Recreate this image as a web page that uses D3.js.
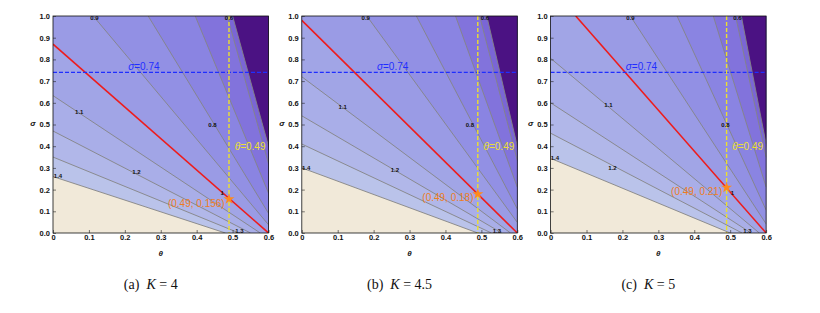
<!DOCTYPE html>
<html>
<head>
<meta charset="utf-8">
<script src="https://cdn.jsdelivr.net/npm/d3@7"></script>
<style>
  body { margin: 0; background: #fff; }
</style>
</head>
<body>
<script>
// panel captions
const panelTags = ['(a)', '(b)', '(c)'];
const kValues = ['4', '4.5', '5'];

// contour levels, from the beige corner up to the dark wedge
const levels = ['1.4', '1.3', '1.2', '1.1', '1', '0.9', '0.8', '0.7', '0.6', 'dark'];
const bandColors = ['#bac3ea', '#b1b7e9', '#a9aee8', '#a1a5e6', '#9a9be5', '#9290e4',
                    '#8a84e2', '#8273dc', '#7a66d6', '#4b1283'];
const baseColor = '#f1e9d9';

// where each contour enters (theta, sigma) ... and leaves the frame
const contourStart = [
  [[0, 0.26], [0, 0.35], [0, 0.47], [0, 0.633], [0, 0.87], [0.112, 1], [0.265, 1], [0.396, 1], [0.485, 1], [0.50, 1]],
  [[0, 0.30], [0, 0.41], [0, 0.54], [0, 0.72], [0, 0.98], [0.181, 1], [0.319, 1], [0.428, 1], [0.495, 1], [0.515, 1]],
  [[0, 0.344], [0, 0.46], [0, 0.60], [0, 0.805], [0.07, 1], [0.222, 1], [0.352, 1], [0.453, 1], [0.515, 1], [0.531, 1]]
];
const contourEnd = [
  [[0.48, 0], [0.518, 0], [0.55, 0], [0.577, 0], [0.6, 0], [0.6, 0.038], [0.6, 0.091], [0.6, 0.184], [0.6, 0.32], [0.6, 0.40]],
  [[0.49, 0], [0.528, 0], [0.557, 0], [0.581, 0], [0.6, 0], [0.6, 0.049], [0.6, 0.111], [0.6, 0.211], [0.6, 0.334], [0.6, 0.40]],
  [[0.50, 0], [0.533, 0], [0.558, 0], [0.581, 0], [0.6, 0], [0.6, 0.042], [0.6, 0.106], [0.6, 0.212], [0.6, 0.349], [0.6, 0.41]]
];

// contour labels [text, theta, sigma]
const contourLabels = [
  [['0.9', 0.115, 0.993], ['0.6', 0.49, 0.993], ['1.1', 0.073, 0.56], ['0.8', 0.444, 0.50],
   ['1.4', 0.014, 0.264], ['1.2', 0.232, 0.28], ['1', 0.471, 0.183], ['1.3', 0.519, 0.01]],
  [['0.9', 0.178, 0.993], ['0.6', 0.51, 0.993], ['1.1', 0.114, 0.58], ['0.8', 0.468, 0.50],
   ['1.4', 0.012, 0.30], ['1.2', 0.259, 0.29], ['1.3', 0.543, 0.008]],
  [['0.9', 0.222, 0.993], ['0.6', 0.52, 0.993], ['1.1', 0.161, 0.59], ['0.8', 0.487, 0.50],
   ['1.4', 0.012, 0.344], ['1.2', 0.172, 0.30], ['1', 0.506, 0.186], ['1.3', 0.548, 0.008]]
];

// reference lines and marked point
const thetaMark = 0.49;
const sigmaMark = 0.74;
const starSigma = [0.156, 0.18, 0.21];
const starText = ['(0.49, 0.156)', '(0.49, 0.18)', '(0.49, 0.21)'];

const xTicks = [0, 0.1, 0.2, 0.3, 0.4, 0.5, 0.6];
const yTicks = [0, 0.1, 0.2, 0.3, 0.4, 0.5, 0.6, 0.7, 0.8, 0.9, 1.0];

const W = 820, H = 313;
const left0 = 53, step = 248.8, topY = 16;
const pw = 215.5, ph = 217;
const sans = '"Liberation Sans", Arial, sans-serif';

const svg = d3.select('body').append('svg')
  .attr('width', W).attr('height', H)
  .style('font-family', sans);
svg.append('rect').attr('width', W).attr('height', H).attr('fill', '#fff');

panelTags.forEach((tag, i) => {
  const g = svg.append('g')
    .attr('transform', `translate(${left0 + i * step},${topY})`);

  const x = d3.scaleLinear().domain([0, 0.6]).range([0, pw]);
  const y = d3.scaleLinear().domain([0, 1]).range([ph, 0]);

  g.append('clipPath').attr('id', 'clip' + i)
    .append('rect').attr('width', pw).attr('height', ph);

  const plot = g.append('g').attr('clip-path', `url(#clip${i})`);
  plot.append('rect').attr('width', pw).attr('height', ph).attr('fill', baseColor);

  // fill the side of each contour that lies toward the dark corner
  const halfPlane = (a, b) => {
    const p = [x(a[0]), y(a[1])], q = [x(b[0]), y(b[1])];
    const len = Math.hypot(q[0] - p[0], q[1] - p[1]);
    const d = [(q[0] - p[0]) / len, (q[1] - p[1]) / len];
    const n = [d[1], -d[0]];
    const L = 2000;
    const A = [p[0] - L * d[0], p[1] - L * d[1]];
    const B = [q[0] + L * d[0], q[1] + L * d[1]];
    return [A, B, [B[0] + L * n[0], B[1] + L * n[1]], [A[0] + L * n[0], A[1] + L * n[1]]];
  };

  plot.selectAll('polygon.band')
    .data(levels)
    .join('polygon')
    .attr('class', 'band')
    .attr('points', (d, k) => halfPlane(contourStart[i][k], contourEnd[i][k]).map(p => p.join(',')).join(' '))
    .attr('fill', (d, k) => bandColors[k]);

  plot.selectAll('line.contour')
    .data(levels.filter(l => l !== '1'))
    .join('line')
    .attr('class', 'contour')
    .each(function (d) {
      const k = levels.indexOf(d);
      d3.select(this)
        .attr('x1', x(contourStart[i][k][0])).attr('y1', y(contourStart[i][k][1]))
        .attr('x2', x(contourEnd[i][k][0])).attr('y2', y(contourEnd[i][k][1]));
    })
    .attr('stroke', '#858585')
    .attr('stroke-width', 0.9);

  // the level-1 contour in red
  const r = levels.indexOf('1');
  plot.append('line')
    .attr('x1', x(contourStart[i][r][0])).attr('y1', y(contourStart[i][r][1]))
    .attr('x2', x(contourEnd[i][r][0])).attr('y2', y(contourEnd[i][r][1]))
    .attr('stroke', '#ee1c1c')
    .attr('stroke-width', 1.6);

  // blue dashed sigma line
  plot.append('line')
    .attr('x1', 0).attr('x2', pw)
    .attr('y1', y(sigmaMark)).attr('y2', y(sigmaMark))
    .attr('stroke', '#1f2eff').attr('stroke-width', 1.1)
    .attr('stroke-dasharray', '4,2');

  // yellow dashed theta line
  plot.append('line')
    .attr('x1', x(thetaMark)).attr('x2', x(thetaMark))
    .attr('y1', 0).attr('y2', ph)
    .attr('stroke', '#ece02c').attr('stroke-width', 1.4)
    .attr('stroke-dasharray', '4,2');

  g.selectAll('text.clabel')
    .data(contourLabels[i])
    .join('text')
    .attr('class', 'clabel')
    .attr('x', d => x(d[1]))
    .attr('y', d => y(d[2]))
    .attr('dy', '0.35em')
    .attr('text-anchor', 'middle')
    .attr('font-size', 6)
    .attr('font-weight', 'bold')
    .attr('fill', '#111')
    .text(d => d[0]);

  const sLab = g.append('text')
    .attr('x', x(0.253)).attr('y', y(0.768)).attr('dy', '0.35em')
    .attr('text-anchor', 'middle')
    .attr('font-size', 10)
    .attr('fill', '#1f2eff');
  sLab.append('tspan').attr('font-style', 'italic').text('σ');
  sLab.append('tspan').text('=' + sigmaMark);

  const tLab = g.append('text')
    .attr('x', x(0.506)).attr('y', y(0.40)).attr('dy', '0.35em')
    .attr('font-size', 10)
    .attr('fill', '#eee030');
  tLab.append('tspan').attr('font-style', 'italic').text('θ');
  tLab.append('tspan').text('=' + thetaMark);

  g.append('path')
    .attr('d', d3.symbol(d3.symbolStar).size(38))
    .attr('transform', `translate(${x(thetaMark)},${y(starSigma[i])})`)
    .attr('fill', '#ff8a1c');

  g.append('text')
    .attr('x', x(0.478)).attr('y', y(starSigma[i]) + 4).attr('dy', '0.35em')
    .attr('text-anchor', 'end')
    .attr('font-size', 10)
    .attr('fill', '#ef7d1e')
    .text(starText[i]);

  // frame and axes
  g.append('rect').attr('width', pw).attr('height', ph)
    .attr('fill', 'none').attr('stroke', '#111').attr('stroke-width', 0.8);

  const ax = g.append('g')
    .attr('transform', `translate(0,${ph})`)
    .call(d3.axisBottom(x).tickValues(xTicks)
      .tickFormat(d => d === 0 ? '0' : d3.format('.1f')(d))
      .tickSizeInner(-3).tickSizeOuter(0).tickPadding(2));
  const ay = g.append('g')
    .call(d3.axisLeft(y).tickValues(yTicks)
      .tickFormat(d3.format('.1f'))
      .tickSizeInner(-3).tickSizeOuter(0).tickPadding(3));
  [ax, ay].forEach(a => {
    a.select('.domain').remove();
    a.selectAll('line').attr('stroke', '#222').attr('stroke-width', 0.6);
    a.selectAll('text')
      .attr('font-family', sans)
      .attr('font-size', 7.5).attr('font-weight', 'bold').attr('fill', '#111');
  });

  g.append('text')
    .attr('x', pw / 2).attr('y', ph + 20).attr('dy', '0.35em')
    .attr('text-anchor', 'middle')
    .attr('font-size', 8).attr('font-weight', 'bold').attr('font-style', 'italic')
    .attr('fill', '#111')
    .text('θ');
  g.append('text')
    .attr('x', -20).attr('y', ph / 2 - 1).attr('dy', '0.35em')
    .attr('text-anchor', 'middle')
    .attr('font-size', 8).attr('font-weight', 'bold').attr('font-style', 'italic')
    .attr('fill', '#111')
    .text('σ');

  // caption
  const cap = svg.append('text')
    .attr('x', left0 + i * step + pw / 2 - 10)
    .attr('y', 289)
    .attr('text-anchor', 'middle')
    .style('font-family', '"Liberation Serif", "Times New Roman", serif')
    .attr('font-size', 14)
    .attr('fill', '#111')
    .attr('xml:space', 'preserve');
  cap.append('tspan').text(tag + '  ');
  cap.append('tspan').attr('font-style', 'italic').text('K');
  cap.append('tspan').text(' = ' + kValues[i]);
});
</script>
</body>
</html>
